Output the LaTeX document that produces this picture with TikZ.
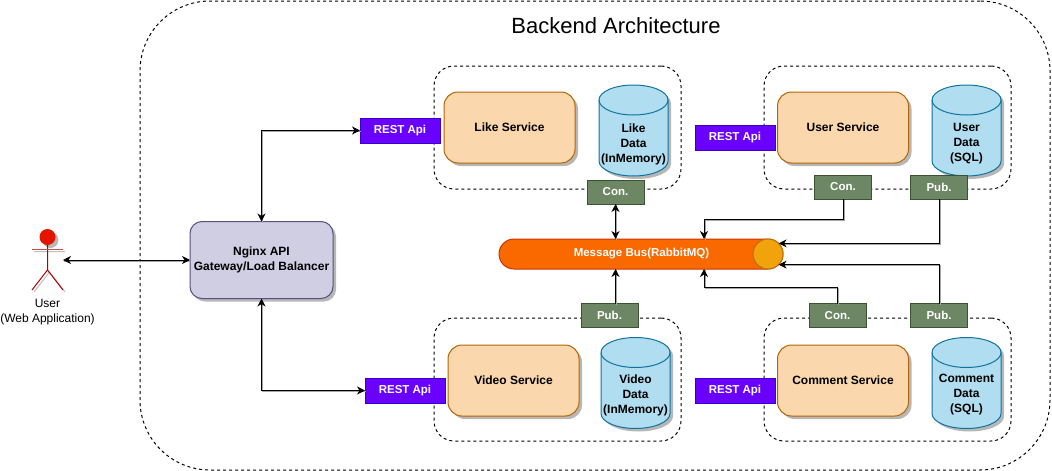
\documentclass[tikz,border=0pt]{standalone}
\usepackage{fontspec}
\setmainfont{Liberation Sans}
\usepackage{xcolor}
\usetikzlibrary{arrows.meta, shadows}

\definecolor{restfill}{HTML}{6A00FF}
\definecolor{restline}{HTML}{3700CC}
\definecolor{queuefill}{HTML}{6D8764}
\definecolor{queueline}{HTML}{3A5431}
\definecolor{servicefill}{HTML}{FAD7AC}
\definecolor{serviceline}{HTML}{B46504}
\definecolor{datafill}{HTML}{B1DDF0}
\definecolor{dataline}{HTML}{10739E}
\definecolor{nginxfill}{HTML}{D0CEE2}
\definecolor{nginxline}{HTML}{56517E}
\definecolor{busfill}{HTML}{FA6800}
\definecolor{busline}{HTML}{C73500}
\definecolor{endfill}{HTML}{F0A30A}
\definecolor{endline}{HTML}{BD7000}
\definecolor{userfill}{HTML}{E51400}
\definecolor{userline}{HTML}{B20000}

\tikzset{
    >={Stealth[length=8pt,width=8pt,inset=2.5pt]},
    softshadow/.style={drop shadow={shadow xshift=3pt,shadow yshift=-3pt,fill=black!40,opacity=0.7}},
    plain/.style={inner sep=0pt, outer sep=0pt, align=center, font=\fontsize{12}{15}\selectfont},
    strong/.style={plain, font=\fontsize{12}{15}\selectfont\bfseries},
    small/.style={plain, font=\fontsize{11.5}{15}\selectfont\bfseries},
    group/.style={draw, dash pattern=on 3pt off 3pt, rounded corners=20pt, inner sep=0pt, outer sep=0pt, minimum width=247pt, minimum height=123pt},
    service/.style={strong, draw=serviceline, fill=servicefill, rounded corners=14pt, minimum width=131pt, minimum height=71pt, softshadow},
    storebox/.style={inner sep=0pt, outer sep=0pt, minimum width=69pt, minimum height=91pt},
    rest/.style={small, draw=restline, fill=restfill, text=white, minimum width=80pt, minimum height=25pt},
    queue/.style={small, draw=queueline, fill=queuefill, text=white, minimum width=57pt, minimum height=24pt},
    link/.style={preaction={draw=black!35, -, transform canvas={xshift=1pt,yshift=-1pt}}}
}

\newcommand{\datastore}[3]{
    \node[storebox] (#1) at (#2,#3) {};
    \draw[draw=dataline, fill=datafill, softshadow] (#1.north west) ++(0,15)
        arc[start angle=180, end angle=0, x radius=34.5pt, y radius=15pt] -- ++(0,61)
        arc[start angle=0, end angle=-180, x radius=34.5pt, y radius=15pt] -- cycle;
    \draw[draw=dataline] (#1.north west) ++(0,15)
        arc[start angle=180, end angle=360, x radius=34.5pt, y radius=15pt];
}

\begin{document}
\begin{tikzpicture}[x=1pt, y=-1pt, line width=1pt]
    \useasboundingbox (0,0) rectangle (1052,471);

    % Define nodes
    \node[draw, dash pattern=on 3pt off 3pt, rounded corners=70pt, inner sep=0pt, minimum width=910pt, minimum height=469pt] (backend) at (595,235.5) {};
    \node[plain, font=\fontsize{22}{26}\selectfont] (title) at (616,26) {Backend Architecture};

    \node[group] (likegroup) at (557.5,127.5) {};
    \node[group] (usergroup) at (887.5,127.5) {};
    \node[group] (videogroup) at (557.5,379.5) {};
    \node[group] (commentgroup) at (887.5,379.5) {};

    \node[service] (likeservice) at (509.5,127.5) {Like Service};
    \node[service] (userservice) at (843,127.5) {User Service};
    \node[service] (videoservice) at (513.5,380.5) {Video Service};
    \node[service] (commentservice) at (843,380.5) {Comment Service};

    \datastore{likedata}{633.5}{130.5}
    \datastore{userdata}{966.5}{130.5}
    \datastore{videodata}{635.5}{383}
    \datastore{commentdata}{966.5}{383}
    \node[strong] (liketext) at (633.5,144) {Like\\Data\\(InMemory)};
    \node[strong] (usertext) at (966.5,144) {User\\Data\\(SQL)};
    \node[strong] (videotext) at (635.5,395) {Video\\Data\\(InMemory)};
    \node[strong] (commenttext) at (966.5,395) {Comment\\Data\\(SQL)};

    \node[rest] (likerest) at (400,130.5) {REST Api};
    \node[rest] (userrest) at (735,137.5) {REST Api};
    \node[rest] (videorest) at (405,390.5) {REST Api};
    \node[rest] (commentrest) at (735,390.5) {REST Api};

    \node[queue] (likecon) at (615.5,192) {Con.};
    \node[queue] (usercon) at (843,187) {Con.};
    \node[queue] (userpub) at (939,187) {Pub.};
    \node[queue] (videopub) at (609.5,315.5) {Pub.};
    \node[queue] (commentcon) at (837.5,315.5) {Con.};
    \node[queue] (commentpub) at (939,315.5) {Pub.};

    \node[strong, draw=nginxline, fill=nginxfill, rounded corners=12pt, minimum width=143pt, minimum height=77pt, softshadow] (nginx) at (261.5,260) {Nginx API\\Gateway/Load Balancer};

    \node[draw=busline, fill=busfill, rounded corners=15pt, inner sep=0pt, outer sep=0pt, minimum width=284pt, minimum height=30pt] (bus) at (641,254) {};
    \node[draw=endline, fill=endfill, circle, inner sep=0pt, outer sep=0pt, minimum size=30pt] (busend) at (768,254) {};
    \node[small, text=white] (bustext) at (641.5,254) {Message Bus(RabbitMQ)};

    % User figure
    \node[fill=userfill, circle, inner sep=0pt, outer sep=0pt, minimum size=16pt, softshadow] (head) at (47.5,237) {};
    \coordinate (armleft) at (32,249.5);
    \coordinate (armright) at (63,249.5);
    \coordinate (hip) at (47.5,270);
    \coordinate (footleft) at (32,290);
    \coordinate (footright) at (63,290);
    \coordinate (userside) at (63,260);
    \draw[draw=black!25, transform canvas={xshift=2pt,yshift=-2pt}] (armleft) -- (armright) (hip) -- (footleft) (hip) -- (footright);
    \draw[userline] (head) -- (hip) -- (footleft) (hip) -- (footright);
    \draw[userline!70] (armleft) -- (armright);
    \node[plain] (usertitle) at (47.5,312.5) {User\\(Web Application)};

    % Draw arrows
    \draw[<->, link] (userside) -- (nginx.west |- userside);
    \draw[<->, link] (nginx.north) |- (likerest.west);
    \draw[<->, link] (nginx.south) |- (videorest.west);
    \draw[<->, link] (likecon.south) -- (likecon.south |- bus.north);
    \draw[->, link] (videopub.north -| likecon.south) -- (likecon.south |- bus.south);

    \coordinate (businup) at (704,239);
    \coordinate (busindown) at (704,269);
    \draw[->, link] (usercon.south) -- ++(0,20) -| (businup);
    \draw[->, link] (userpub.south) |- (busend.45);
    \draw[->, link] (commentpub.north) |- (busend.-45);
    \draw[->, link] (commentcon.north) -- ++(0,-16) -| (busindown);
\end{tikzpicture}
\end{document}
